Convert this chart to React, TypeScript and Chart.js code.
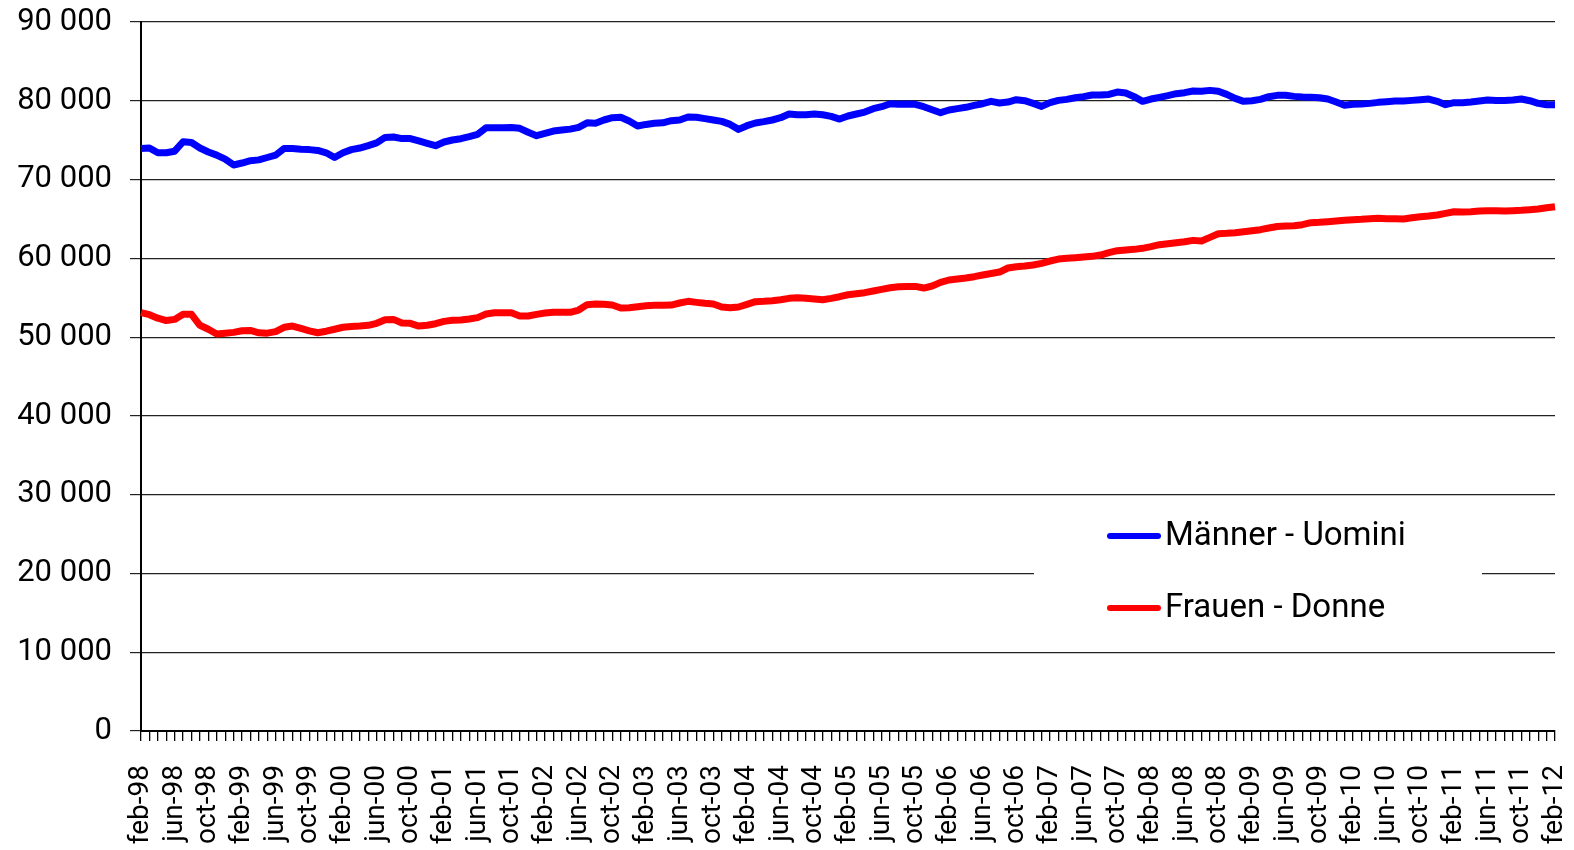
import React, { useEffect, useRef } from "react";
import { Chart, registerables } from "chart.js";

Chart.register(...registerables);

const monthNames = ["jan", "feb", "mar", "apr", "may", "jun", "jul", "aug", "sep", "oct", "nov", "dec"];
const startYear = 1998;
const startMonth = 1; // feb
const monthCount = 169; // feb-98 .. feb-12

const categories: string[] = [];
for (let i = 0; i < monthCount; i++) {
  const m = (startMonth + i) % 12;
  const y = startYear + Math.floor((startMonth + i) / 12);
  categories.push(monthNames[m] + "-" + String(y % 100).padStart(2, "0"));
}

const seriesNames = ["Männer - Uomini", "Frauen - Donne"];
const seriesColors = ["#0000FF", "#FF0000"];

const men = [
  73950, 74000, 73400, 73400, 73600, 74800, 74700, 74000, 73500, 73100, 72600, 71850,
  72100, 72400, 72500, 72800, 73100, 73950, 73950, 73850, 73800, 73700, 73400, 72800,
  73400, 73800, 74000, 74300, 74650, 75350, 75400, 75200, 75200, 74900, 74600, 74300,
  74770, 75020, 75190, 75440, 75740, 76580, 76580, 76580, 76620, 76500, 76000, 75570,
  75860, 76160, 76290, 76400, 76620, 77200, 77150, 77560, 77850, 77900, 77430, 76800,
  77000, 77150, 77200, 77470, 77560, 77940, 77900, 77730, 77560, 77390, 77000, 76370,
  76840, 77180, 77350, 77560, 77850, 78320, 78230, 78230, 78320, 78230, 78020, 77680,
  78070, 78320, 78570, 79000, 79250, 79630, 79550, 79600, 79550, 79250, 78870, 78490,
  78830, 79000, 79170, 79420, 79630, 79930, 79720, 79840, 80140, 80010, 79670, 79290,
  79760, 80050, 80180, 80390, 80520, 80730, 80730, 80810, 81110, 80990, 80520, 79930,
  80220, 80440, 80650, 80900, 81030, 81240, 81200, 81320, 81200, 80810, 80310, 79930,
  80010, 80180, 80520, 80690, 80690, 80560, 80480, 80440, 80390, 80220, 79840, 79420,
  79550, 79590, 79670, 79800, 79890, 79970, 79970, 80050, 80140, 80220, 79930, 79500,
  79760, 79760, 79840, 79970, 80100, 80050, 80050, 80100, 80220, 80010, 79670, 79500,
  79500,
];

const women = [
  53100, 52850, 52400, 52100, 52250, 52900, 52900, 51500, 51000, 50400, 50500, 50600,
  50800, 50850, 50550, 50500, 50700, 51250, 51400, 51100, 50800, 50550, 50750, 51000,
  51250, 51350, 51400, 51500, 51750, 52200, 52250, 51800, 51750, 51400, 51500, 51700,
  52000, 52130, 52170, 52300, 52470, 52930, 53100, 53100, 53100, 52680, 52680, 52890,
  53060, 53150, 53150, 53150, 53440, 54120, 54200, 54160, 54070, 53700, 53730, 53860,
  53990, 54030, 54030, 54070, 54330, 54540, 54410, 54290, 54200, 53820, 53740, 53820,
  54160, 54500, 54540, 54620, 54750, 54920, 55000, 54920, 54840, 54750, 54920, 55130,
  55380, 55510, 55640, 55850, 56060, 56270, 56400, 56440, 56440, 56230, 56490, 56950,
  57250, 57370, 57500, 57670, 57880, 58080, 58260, 58770, 58940, 59020, 59150, 59360,
  59660, 59910, 60000, 60080, 60170, 60250, 60420, 60720, 60970, 61060, 61140, 61270,
  61480, 61730, 61860, 61980, 62110, 62280, 62200, 62660, 63130, 63170, 63250, 63380,
  63510, 63640, 63850, 64040, 64100, 64140, 64270, 64530, 64570, 64650, 64740, 64820,
  64910, 64950, 65030, 65080, 65030, 65030, 64990, 65160, 65290, 65370, 65500, 65710,
  65920, 65880, 65920, 66000, 66050, 66050, 66000, 66050, 66090, 66170, 66260, 66430,
  66560,
];

const yMin = 0;
const yMax = 90000;
const yStep = 10000;

const FONT = 'Roboto, "Open Sans", "DejaVu Sans", sans-serif';

// target plot area (px)
const AREA = { left: 141, top: 22, right: 1555, bottom: 731 };

function formatThousands(v: number): string {
  return String(v).replace(/\B(?=(\d{3})+(?!\d))/g, " ");
}

function zeroPadding(scale: any) {
  scale.paddingLeft = 0;
  scale.paddingRight = 0;
  scale.paddingTop = 0;
  scale.paddingBottom = 0;
}

const legendPlugin = {
  id: "customLegend",
  afterDraw(chart: any) {
    const ctx = chart.ctx;
    ctx.save();
    ctx.fillStyle = "#ffffff";
    ctx.fillRect(1034, 502, 448, 140);
    chart.data.datasets.forEach((ds: any, i: number) => {
      const y = 536 + i * 72;
      ctx.beginPath();
      ctx.strokeStyle = ds.borderColor;
      ctx.lineWidth = 6;
      ctx.lineCap = "round";
      ctx.moveTo(1110, y);
      ctx.lineTo(1158, y);
      ctx.stroke();
      ctx.fillStyle = "#000";
      ctx.font = "33px " + FONT;
      ctx.textBaseline = "middle";
      ctx.textAlign = "left";
      ctx.fillText(ds.label, 1165, y + 1);
    });
    ctx.restore();
  },
};

export default function App() {
  const canvasRef = useRef<HTMLCanvasElement | null>(null);

  useEffect(() => {
    let chart: any = null;
    let cancelled = false;
    const make = () => {
      if (cancelled || !canvasRef.current) return;
      const dsBase = {
        borderWidth: 7,
        pointRadius: 0,
        tension: 0,
        borderJoinStyle: "round",
        borderCapStyle: "butt",
      };
      chart = new Chart(canvasRef.current, {
        type: "line",
        data: {
          labels: categories,
          datasets: [
            { ...dsBase, label: seriesNames[0], data: men, borderColor: seriesColors[0], backgroundColor: seriesColors[0] },
            { ...dsBase, label: seriesNames[1], data: women, borderColor: seriesColors[1], backgroundColor: seriesColors[1] },
          ],
        },
        options: {
          animation: false,
          responsive: false,
          devicePixelRatio: 1,
          layout: { padding: { left: 0, top: AREA.top, right: 1574 - AREA.right, bottom: 0 } },
          plugins: {
            legend: { display: false },
            tooltip: { enabled: false },
            title: { display: false },
          },
          scales: {
            x: {
              type: "category",
              offset: false,
              afterFit: (scale: any) => {
                scale.height = 850 - AREA.bottom;
                zeroPadding(scale);
              },
              grid: {
                drawOnChartArea: false,
                drawTicks: true,
                tickLength: 10,
                color: "#000",
                lineWidth: 1.3,
              },
              border: { color: "#000", width: 2 },
              ticks: {
                autoSkip: false,
                maxRotation: 90,
                minRotation: 90,
                padding: 24,
                color: "#000",
                font: { family: FONT, size: 28 },
                callback: (_v: any, idx: number) => (idx % 4 === 0 ? categories[idx] : ""),
              },
            },
            y: {
              min: yMin,
              max: yMax,
              afterFit: (scale: any) => {
                scale.width = AREA.left;
                zeroPadding(scale);
              },
              grid: {
                color: "#222",
                lineWidth: 1.2,
                tickLength: 11,
              },
              border: { color: "#000", width: 2 },
              ticks: {
                stepSize: yStep,
                padding: 18,
                color: "#000",
                font: { family: FONT, size: 31 },
                callback: (v: any) => formatThousands(Number(v)),
              },
            },
          },
        },
        plugins: [legendPlugin],
      } as any);
    };
    const fonts: any = (document as any).fonts;
    if (fonts && fonts.load) {
      Promise.all([fonts.load("28px Roboto")]).then(make, make);
    } else {
      make();
    }
    return () => {
      cancelled = true;
      if (chart) chart.destroy();
    };
  }, []);

  return (
    <div style={{ position: "fixed", left: 0, top: 0, width: 1574, height: 850, background: "#fff" }}>
      <canvas ref={canvasRef} width={1574} height={850} style={{ width: 1574, height: 850, display: "block" }} />
    </div>
  );
}
